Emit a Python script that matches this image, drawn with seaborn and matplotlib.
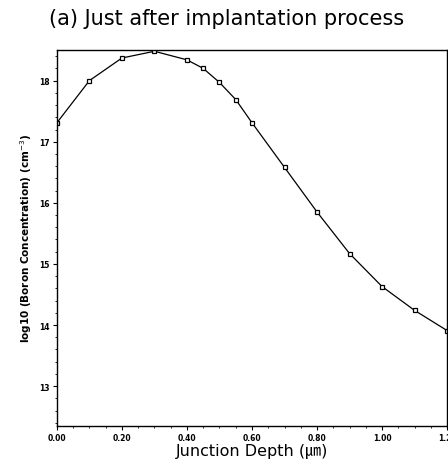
import pandas as pd
import matplotlib.pyplot as plt
import seaborn as sns

depth = [0.0, 0.1, 0.2, 0.3, 0.4, 0.45, 0.5, 0.55, 0.6, 0.7, 0.8, 0.9, 1.0, 1.1, 1.2]
log_conc = [17.31, 18.0, 18.37, 18.48, 18.34, 18.2, 17.97, 17.69, 17.31,
            16.58, 15.85, 15.17, 14.63, 14.24, 13.91]
x_ticks = [0.0, 0.2, 0.4, 0.6, 0.8, 1.0, 1.2]
y_ticks = [13, 14, 15, 16, 17, 18]

sns.set_style('ticks')
plt.rcParams['font.family'] = ['DejaVu Sans', 'Noto Sans CJK KR']
plt.rcParams['text.color'] = 'black'
plt.rcParams['axes.labelcolor'] = 'black'
plt.rcParams['xtick.color'] = 'black'
plt.rcParams['ytick.color'] = 'black'

dados = pd.DataFrame({'depth': depth, 'conc': log_conc})

fig = plt.figure(figsize=(4.48, 4.6), dpi=100)
ax = fig.add_axes([0.127, 0.072, 0.871, 0.817])
sns.lineplot(data=dados, x='depth', y='conc', ax=ax, color='black', linewidth=0.9,
             marker='s', markersize=3.5, markerfacecolor='white', markeredgecolor='black',
             markeredgewidth=0.9)

ax.set_xlim(0, 1.2)
ax.set_ylim(12.35, 18.5)
ax.set_xticks(x_ticks)
ax.set_xticklabels([f'{v:.2f}' for v in x_ticks], fontsize=5.5, fontweight='bold')
ax.set_yticks(y_ticks)
ax.set_yticklabels([str(v) for v in y_ticks], fontsize=5.5, fontweight='bold')
ax.minorticks_on()
ax.tick_params(which='major', length=3, width=0.8, direction='out', pad=2)
ax.tick_params(which='minor', length=1.5, width=0.6)
for s in ax.spines.values():
    s.set_linewidth(1.0)
    s.set_color('black')

ax.set_xlabel('Junction Depth (㎛)', fontsize=11.5, labelpad=1,
              family=['DejaVu Sans', 'Noto Sans CJK KR'])
ax.set_ylabel('log10 (Boron Concentration) (cm$^{-3}$)', fontsize=7.5, fontweight='bold', labelpad=4)
fig.text(0.505, 0.958, '(a) Just after implantation process', ha='center', va='center', fontsize=15)

fig.savefig('out.png', dpi=100)
